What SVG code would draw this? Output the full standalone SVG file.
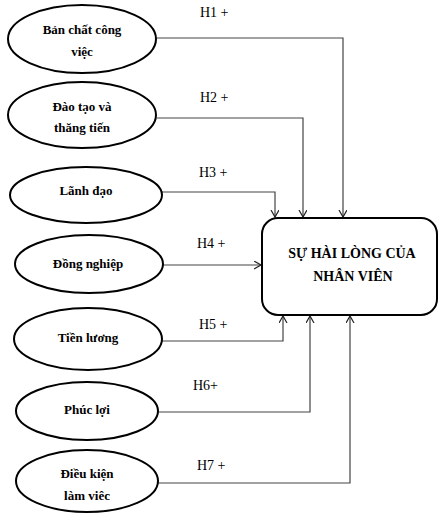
<svg xmlns="http://www.w3.org/2000/svg" width="439" height="513" viewBox="0 0 439 513">
<style>
.n ellipse{fill:#fff;stroke:#000;stroke-width:2}
.t{font-family:"Liberation Serif",serif;font-weight:bold;font-size:13px;text-anchor:middle;fill:#000}
.h{font-family:"Liberation Serif",serif;font-size:14px;fill:#000}
.c path{fill:none;stroke:#444;stroke-width:1.2}
</style>
<defs>
<marker id="a" markerWidth="10" markerHeight="10" refX="7" refY="4" orient="auto" markerUnits="userSpaceOnUse">
<path d="M0,0 L7,4 L0,8" fill="none" stroke="#222" stroke-width="1.2"/>
</marker>
</defs>
<g class="c" id="connectors">
<path d="M157,38 H343 V217" marker-end="url(#a)"/>
<path d="M157,118 H303 V217" marker-end="url(#a)"/>
<path d="M162,192 H275 V217" marker-end="url(#a)"/>
<path d="M163,265 H261" marker-end="url(#a)"/>
<path d="M162,341 H283 V316" marker-end="url(#a)"/>
<path d="M158,412 H310 V316" marker-end="url(#a)"/>
<path d="M158,483 H350 V316" marker-end="url(#a)"/>
</g>
<g id="labels">
<text class="h" x="200" y="17">H1 +</text>
<text class="h" x="200" y="102">H2 +</text>
<text class="h" x="199" y="177">H3 +</text>
<text class="h" x="197" y="248">H4 +</text>
<text class="h" x="199" y="329">H5 +</text>
<text class="h" x="193" y="390">H6+</text>
<text class="h" x="197" y="470">H7 +</text>
</g>
<g id="n1" class="n"><ellipse cx="82" cy="39" rx="74" ry="34"/><text class="t" x="82" y="34">Bản chất công</text><text class="t" x="82" y="56">việc</text></g>
<g id="n2" class="n"><ellipse cx="82" cy="115" rx="74" ry="33"/><text class="t" x="82" y="111">Đào tạo và</text><text class="t" x="82" y="132">thăng tiến</text></g>
<g id="n3" class="n"><ellipse cx="86" cy="195" rx="76" ry="28"/><text class="t" x="86" y="195">Lãnh đạo</text></g>
<g id="n4" class="n"><ellipse cx="89" cy="264" rx="74" ry="29"/><text class="t" x="88" y="268">Đồng nghiệp</text></g>
<g id="n5" class="n"><ellipse cx="88" cy="339" rx="74" ry="31"/><text class="t" x="88" y="342">Tiền lương</text></g>
<g id="n6" class="n"><ellipse cx="87" cy="411" rx="71" ry="29"/><text class="t" x="87" y="414">Phúc lợi</text></g>
<g id="n7" class="n"><ellipse cx="87" cy="481" rx="71" ry="31"/><text class="t" x="87" y="478">Điều kiện</text><text class="t" x="87" y="500">làm viêc</text></g>
<g id="target">
<rect x="262" y="218" width="175" height="97" rx="16" ry="16" fill="#fff" stroke="#000" stroke-width="2"/>
<text class="t" style="font-size:14px" x="352" y="258">SỰ HÀI LÒNG CỦA</text>
<text class="t" style="font-size:14px" x="353" y="281">NHÂN VIÊN</text>
</g>
</svg>
